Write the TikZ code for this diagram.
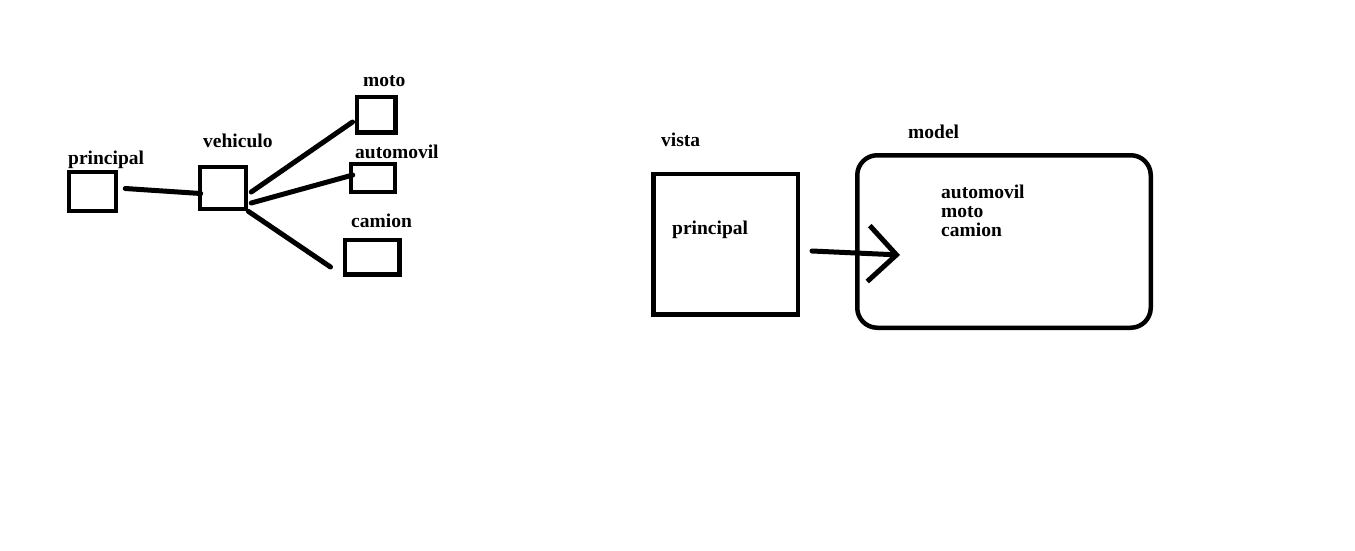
\documentclass[tikz,border=0pt]{standalone}
\usepackage{fontspec}
\setmainfont{Liberation Serif}
\usetikzlibrary{positioning, arrows.meta, calc}

\begin{document}
\begin{tikzpicture}[x=1pt, y=-1pt]
	\tikzstyle{box} = [draw, rectangle, line width=4.5pt, inner sep=0pt]
	\tikzstyle{tag} = [font=\fontsize{19.5}{19}\selectfont\bfseries, inner sep=0pt, anchor=base west]
	\tikzstyle{link} = [line width=5pt, line cap=round]
	\fill[white] (0,0) rectangle (1355,550);
	\useasboundingbox (0,0) rectangle (1355,550);
	% left: vehiculo tree
	\node[box, minimum width=47pt, minimum height=39pt] (principal) at (92.5,191.5) {};
	\node[box, minimum width=46pt, minimum height=42pt] (vehiculo) at (223,188) {};
	\node[box, minimum width=38.5pt, minimum height=35.5pt] (moto) at (376,114.5) {};
	\node[box, minimum width=44pt, minimum height=28pt] (automovil) at (373,178) {};
	\node[box, minimum width=54.5pt, minimum height=34.5pt] (camion) at (372,257) {};
	\node[tag] (lprincipal) at (68,164) {principal};
	\node[tag] (lvehiculo) at (203,147) {vehiculo};
	\node[tag] (lmoto) at (363,86) {moto};
	\node[tag] (lautomovil) at (355,158) {automovil};
	\node[tag] (lcamion) at (351,227) {camion};
	\draw[link] ($(principal.east)+(7,-3)$) -- ($(vehiculo.west)+(3,5.5)$);
	\draw[link] ($(vehiculo.east)+(3,4)$) -- ($(moto.west)+(-2,7.5)$);
	\draw[link] ($(vehiculo.east)+(3,15)$) -- ($(automovil.west)+(4,-3)$);
	\draw[link] (vehiculo.south east) -- ($(camion.west)+(-12,10)$);
	% right: vista and model
	\node[box, minimum width=144.5pt, minimum height=140.5pt] (vista) at (725.5,244) {};
	\node[box, rounded corners=20pt, minimum width=293.5pt, minimum height=172.5pt] (model) at (1004,241.5) {};
	\node[tag] (lvista) at (661,146) {vista};
	\node[tag] (lmodel) at (908,138) {model};
	\node[tag] (vprincipal) at (672,234) {principal};
	\node[tag, anchor=north west, align=left] (mlist) at (941,185) {automovil\\moto\\camion};
	\draw[link, -{Straight Barb[length=28pt, width=56pt]}] ($(vista.east)+(12,7)$) -- ($(model.west)+(45,13.5)$);
\end{tikzpicture}
\end{document}
